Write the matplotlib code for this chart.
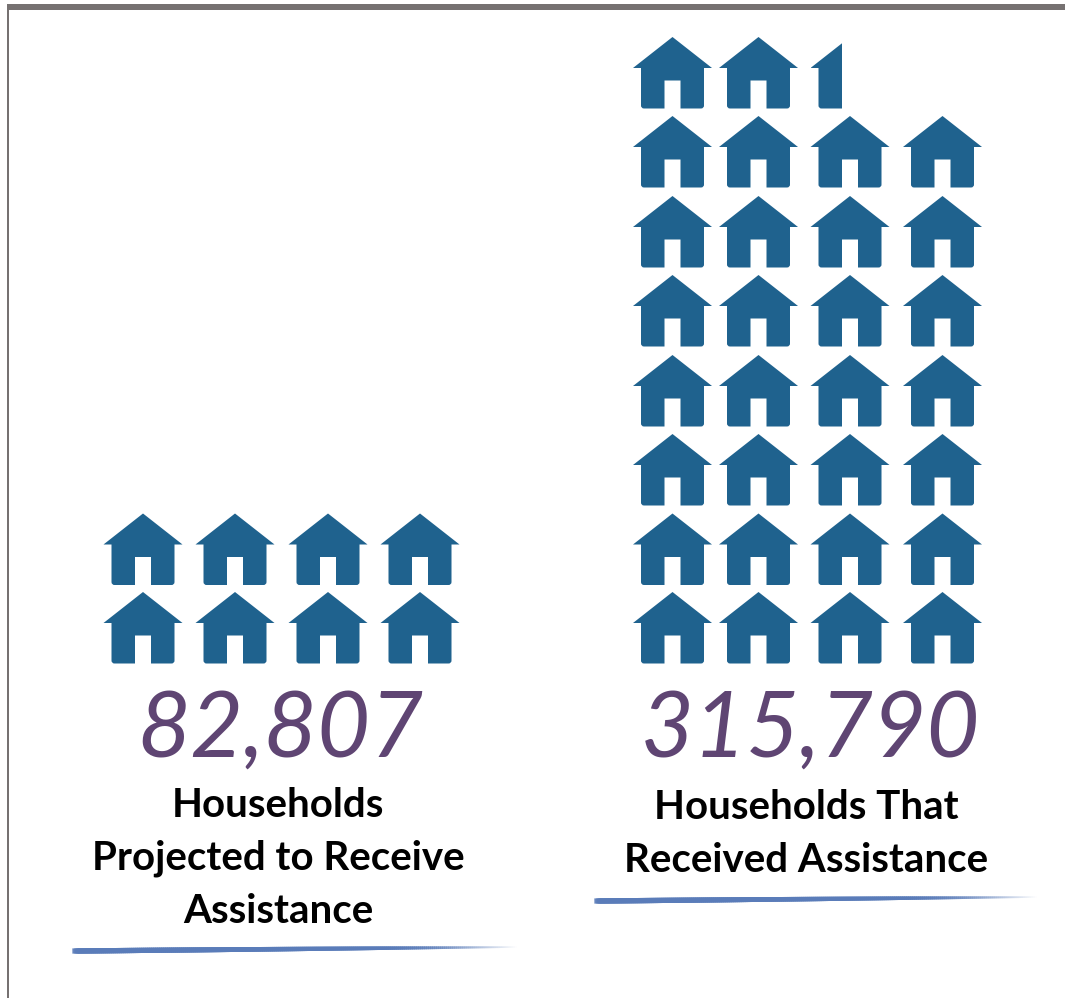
import numpy as np
import matplotlib
matplotlib.use("Agg")
import matplotlib.pyplot as plt
from matplotlib.path import Path
from matplotlib.patches import PathPatch, Rectangle
from matplotlib.collections import LineCollection
from matplotlib.transforms import Affine2D

# Households per group and the pictogram count that stands for each
group_values = [82807, 315790]
group_icons = [8, 30.40]
group_labels = [
    "Households\nProjected to Receive\nAssistance",
    "Households That\nReceived Assistance",
]

HOUSE_BLUE = "#1f628e"
NUMBER_PURPLE = "#5f4573"
BRUSH_BLUE = "#5a7cb9"
FRAME_GREY = "#767171"

# Layout in pixel units of the canvas
col_centers = [[143, 235, 328, 420], [672.5, 758.5, 850, 942.5]]
row_tops = [592, 513.5, 434, 355, 275, 196, 116, 37]
number_xy = [(280, 731), (810, 731)]
label_xy = [(278, 787), (806, 789)]
brush_spans = [((75, 951), (516, 947)), ((597, 901), (1036, 897))]

fig = plt.figure(figsize=(10.65, 9.98), dpi=100)
ax = fig.add_axes([0, 0, 1, 1])
ax.set_xlim(0, 1065)
ax.set_ylim(998, 0)
ax.axis("off")


def house_path():
    """House icon centred on x=0 with its apex at y=0, y pointing down."""
    r = 3.0
    c = Path.CURVE3
    l = Path.LINETO
    pts = [
        (0, 0, Path.MOVETO), (39.5, 31, l), (31.5, 31, l), (31.5, 71.5 - r, l),
        (31.5, 71.5, c), (31.5 - r, 71.5, c), (8, 71.5, l), (8, 43.5, l),
        (-8, 43.5, l), (-8, 71.5, l), (-31.5 + r, 71.5, l), (-31.5, 71.5, c),
        (-31.5, 71.5 - r, c), (-31.5, 31, l), (-39.5, 31, l), (0, 0, Path.CLOSEPOLY),
    ]
    return Path([(x, y) for x, y, _ in pts], [k for _, _, k in pts])


HOUSE = house_path()

# Pictogram stacks: filled bottom row first, the last icon cut to its fraction
for centers, count in zip(col_centers, group_icons):
    whole = int(np.floor(count))
    frac = count - whole
    for i in range(int(np.ceil(count))):
        row, col = divmod(i, len(centers))
        cx, top = centers[col], row_tops[row]
        patch = PathPatch(
            HOUSE, facecolor=HOUSE_BLUE, edgecolor="none",
            transform=Affine2D().translate(cx, top) + ax.transData,
        )
        ax.add_patch(patch)
        if i == whole and frac > 0:
            clip = Rectangle((cx - 39, top), 78 * frac, 72, transform=ax.transData)
            patch.set_clip_path(clip)

# Large hand-style totals
for value, (x, y) in zip(group_values, number_xy):
    ax.text(x, y, f"{value:,}", color=NUMBER_PURPLE, fontsize=66,
            family="Lato", style="italic", ha="center", va="center")

# Group captions
for label, (x, y) in zip(group_labels, label_xy):
    ax.text(x, y, label, color="black", fontsize=29, family="Lato",
            weight="bold", ha="center", va="top", linespacing=1.52,
            multialignment="center")

# Tapered brush underlines
for (x0, y0), (x1, y1) in brush_spans:
    t = np.linspace(0, 1, 220)
    xs = x0 + (x1 - x0) * t
    ys = y0 + (y1 - y0) * t
    segs = np.stack([np.c_[xs[:-1], ys[:-1]], np.c_[xs[1:], ys[1:]]], axis=1)
    widths = 3.8 * (1 - 0.72 * t[:-1] ** 2)
    rgba = np.tile(matplotlib.colors.to_rgba(BRUSH_BLUE), (len(segs), 1))
    rgba[:, 3] = np.clip((1 - t[:-1]) / 0.3, 0, 1) * 0.92
    ax.add_collection(LineCollection(segs, linewidths=widths, colors=rgba, capstyle="projecting"))

# Frame along the top and left edges
ax.add_patch(Rectangle((7, 4), 1058, 6, facecolor=FRAME_GREY, edgecolor="none"))
ax.add_patch(Rectangle((7, 4), 2, 994, facecolor=FRAME_GREY, edgecolor="none"))

fig.savefig("out.png", dpi=100, facecolor="white")
